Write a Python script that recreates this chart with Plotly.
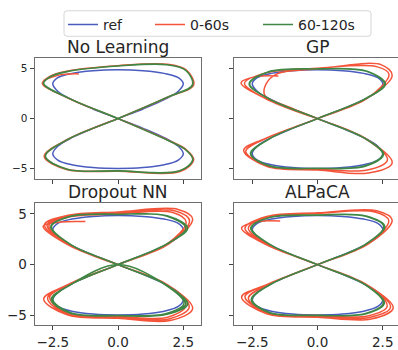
import plotly.graph_objects as go

# ---------------- data ----------------
TITLES = ["No Learning", "GP", "Dropout NN", "ALPaCA"]
SERIES = ["ref", "0-60s", "60-120s"]
X_TICKS = [-2.5, 0.0, 2.5]
X_TICK_TEXT = ["\u22122.5", "0.0", "2.5"]
Y_TICKS = [-5, 0, 5]
Y_TICK_TEXT = ["\u22125", "0", "5"]

# reference figure-eight (one lap)
REF = [(0, 0), (0.96, 0.96), (1.77, 1.88), (2.31, 2.72), (2.5, 3.46), (2.31, 4.07), (1.77, 4.5), (0.96, 4.76), (0, 4.85),
       (-0.96, 4.76), (-1.77, 4.5), (-2.31, 4.07), (-2.5, 3.46), (-2.31, 2.72), (-1.77, 1.88), (-0.96, 0.96), (0, 0),
       (0.96, -0.97), (1.77, -1.9), (2.31, -2.76), (2.5, -3.5), (2.31, -4.13), (1.77, -4.6), (0.96, -4.88), (0, -4.97),
       (-0.96, -4.88), (-1.77, -4.6), (-2.31, -4.13), (-2.5, -3.5), (-2.31, -2.76), (-1.77, -1.9), (-0.96, -0.97), (0, 0)]

# No Learning
NL_RED = [(-1.5, 4.45), (-2.3, 4.3), (-2.9, 3.52), (-1.92, 2.05), (0, 0),
          (1.92, -2.15), (2.62, -3.1), (2.9, -4.1), (2.4, -5.25), (0, -5.24), (-1.97, -5.06), (-2.83, -3.77), (-1.92, -2.05), (0, 0),
          (1.92, 2.15), (2.9, 3.35), (2.62, 4.82), (1.9, 5.4), (0, 5.27), (-1.97, 4.72), (-2.62, 4.2), (-2.9, 3.52), (-1.92, 2.05), (0, 0),
          (1.9, -2.14), (2.6, -3.1), (2.88, -4.1), (2.38, -5.22), (0, -5.22), (-1.96, -5.04), (-2.81, -3.76), (-1.9, -2.04), (0, 0)]
NL_GREEN = [(0, 0), (1.9, 2.14), (2.86, 3.35), (2.6, 4.8), (1.86, 5.37), (0, 5.24), (-1.96, 4.68), (-2.6, 4.17), (-2.86, 3.5), (-1.9, 2.04), (0, 0),
            (1.88, -2.14), (2.6, -3.1), (2.87, -4.1), (2.37, -5.21), (0, -5.21), (-1.96, -5.04), (-2.79, -3.75), (-1.9, -2.04), (0, 0),
            (1.89, 2.13), (2.85, 3.36), (2.6, 4.8), (1.85, 5.36), (0, 5.23), (-1.95, 4.67), (-2.59, 4.16), (-2.85, 3.5), (-1.89, 2.03), (0, 0),
            (1.88, -2.13), (2.59, -3.1), (2.86, -4.1), (2.36, -5.2), (0, -5.2), (-1.95, -5.03), (-2.78, -3.74), (-1.89, -2.03), (0, 0)]

# GP
GP_RED = [(-1.5, 4.25), (-2.35, 4.18), (-2.93, 3.56), (-2.0, 2.0), (0, 0),
          (1.85, -2.0), (2.86, -4.4), (1.95, -5.42), (0, -5.12), (-1.93, -4.78), (-2.83, -3.15), (-1.93, -1.9), (0, 0),
          (1.95, 2.1), (2.86, 4.3), (2.45, 5.35), (0, 4.95), (-1.55, 4.45), (-1.97, 3.45), (-2.02, 2.3), (-1.1, 1.15), (0, 0),
          (1.8, -1.95), (2.68, -4.1), (1.9, -5.12), (0, -5.02), (-1.9, -4.72), (-2.75, -3.25), (-1.9, -1.9), (0, 0),
          (1.9, 2.0), (2.74, 4.4), (2.3, 5.15), (0, 5.02), (-1.98, 4.55), (-2.8, 3.5), (-1.95, 1.95), (0, 0)]
GP_GREEN = [(0, 0), (1.8, -1.95), (2.53, -3.55), (1.85, -4.72), (0, -4.97), (-1.85, -4.72), (-2.57, -3.5), (-1.8, -1.95), (0, 0),
            (1.82, 1.95), (2.6, 3.45), (1.9, 4.72), (0, 4.95), (-1.9, 4.65), (-2.62, 3.45), (-1.85, 1.95), (0, 0),
            (1.79, -1.94), (2.5, -3.55), (1.83, -4.7), (0, -4.95), (-1.83, -4.7), (-2.55, -3.5), (-1.79, -1.94), (0, 0),
            (1.8, 1.94), (2.57, 3.45), (1.88, 4.7), (0, 4.93), (-1.88, 4.63), (-2.6, 3.45), (-1.83, 1.94), (0, 0)]

# Dropout NN
DN_RED = [(-1.25, 4.25), (-2.2, 4.2), (-2.87, 3.8), (-1.95, 2.0), (0, 0),
          (1.9, -2.0), (2.86, -4.35), (2.0, -5.53), (0, -5.3), (-1.95, -4.95), (-2.85, -3.4), (-1.95, -2.0), (0, 0),
          (1.95, 2.05), (2.86, 4.5), (2.3, 5.45), (0, 5.2), (-1.95, 4.85), (-2.82, 3.95), (-1.95, 2.0), (0, 0),
          (1.88, -2.0), (2.73, -4.2), (1.95, -5.38), (0, -5.2), (-1.95, -4.9), (-2.7, -3.3), (-1.9, -1.95), (0, 0),
          (1.9, 2.0), (2.74, 4.35), (2.2, 5.3), (0, 5.1), (-1.95, 4.75), (-2.72, 3.9), (-1.9, 1.98), (0, 0),
          (1.85, -1.98), (2.6, -4.05), (1.9, -5.2), (0, -5.1), (-1.9, -4.85), (-2.62, -3.2), (-1.85, -1.95), (0, 0),
          (1.85, 1.98), (2.61, 4.2), (2.1, 5.15), (0, 5.0), (-1.9, 4.7), (-2.65, 3.85), (-1.85, 1.95), (0, 0)]
DN_GREEN = [(0, 0), (1.82, -1.96), (2.67, -3.9), (1.88, -4.9), (0, -5.06), (-1.85, -4.78), (-2.56, -3.45), (-1.8, -1.95), (0, 0),
            (1.82, 1.96), (2.67, 3.6), (1.88, 4.82), (0, 4.98), (-1.85, 4.76), (-2.58, 3.75), (-1.8, 1.95), (0, 0),
            (1.8, -1.95), (2.6, -3.85), (1.85, -4.86), (0, -5.04), (-1.83, -4.76), (-2.53, -3.44), (-1.79, -1.94), (0, 0),
            (1.8, 1.95), (2.6, 3.58), (1.85, 4.8), (0, 4.96), (-1.83, 4.74), (-2.55, 3.74), (-1.79, 1.94), (0, 0),
            (1.78, -1.94), (2.53, -3.8), (1.82, -4.84), (0, -5.02), (-1.81, -4.74), (-2.5, -3.43), (-1.78, -1.93), (0, 0)]

# ALPaCA
AL_RED = [(-1.43, 4.3), (-2.26, 4.25), (-2.91, 3.6), (-1.97, 1.97), (0, 0),
          (1.9, -2.0), (2.9, -4.27), (2.05, -5.38), (0, -5.2), (-1.95, -4.85), (-2.91, -3.2), (-1.95, -1.98), (0, 0),
          (1.95, 2.05), (2.86, 4.4), (2.3, 5.3), (0, 5.12), (-1.95, 4.75), (-2.78, 3.6), (-1.92, 1.97), (0, 0),
          (1.88, -2.0), (2.8, -4.2), (1.98, -5.22), (0, -5.1), (-1.92, -4.8), (-2.78, -3.15), (-1.9, -1.95), (0, 0),
          (1.9, 2.0), (2.73, 4.35), (2.2, 5.2), (0, 5.05), (-1.92, 4.7), (-2.65, 3.6), (-1.88, 1.95), (0, 0),
          (1.85, -1.98), (2.67, -4.1), (1.92, -5.07), (0, -5.02), (-1.9, -4.78), (-2.65, -3.3), (-1.85, -1.95), (0, 0)]
AL_GREEN = [(0, 0), (1.82, 1.96), (2.58, 3.75), (1.86, 4.8), (0, 4.9), (-1.85, 4.66), (-2.56, 3.6), (-1.8, 1.95), (0, 0),
            (1.82, -1.96), (2.56, -3.8), (1.86, -4.85), (0, -5.02), (-1.85, -4.75), (-2.54, -3.46), (-1.8, -1.95), (0, 0),
            (1.8, 1.95), (2.54, 3.74), (1.84, 4.78), (0, 4.88), (-1.83, 4.64), (-2.53, 3.6), (-1.79, 1.94), (0, 0),
            (1.8, -1.95), (2.52, -3.78), (1.84, -4.83), (0, -5.0), (-1.83, -4.73), (-2.51, -3.45), (-1.79, -1.94), (0, 0)]

PANELS = [(NL_RED, NL_GREEN), (GP_RED, GP_GREEN), (DN_RED, DN_GREEN), (AL_RED, AL_GREEN)]

# ---------------- style ----------------
W, H = 398, 350
COLORS = {"ref": "#4a5cbf", "0-60s": "#f4553a", "60-120s": "#3e8744"}
FONT = "DejaVu Sans"
TXT = "#262626"

# panel pixel boxes: (left, right, top, bottom)
BOXES = [(34.5, 201, 59, 182.5), (234, 398, 59, 182.5), (34.5, 201, 207.5, 332), (234, 398, 207.5, 332)]

fig = go.Figure()
legend_names = ["legend", "legend2", "legend3"]

for i, (red, green) in enumerate(PANELS):
    xa = "x" if i == 0 else f"x{i+1}"
    ya = "y" if i == 0 else f"y{i+1}"
    for j, (name, pts) in enumerate([("ref", REF), ("0-60s", red), ("60-120s", green)]):
        fig.add_trace(go.Scatter(
            x=[p[0] for p in pts], y=[p[1] for p in pts], mode="lines", name=name,
            line=dict(color=COLORS[name], width=1.5, shape="spline", smoothing=1.0),
            xaxis=xa, yaxis=ya, showlegend=(i == 0), legend=legend_names[j],
            hoverinfo="skip"))

layout = dict(width=W, height=H, margin=dict(l=0, r=0, t=0, b=0, pad=0),
              paper_bgcolor="white", plot_bgcolor="white",
              font=dict(family=FONT, color=TXT))

for i, (l, r, t, b) in enumerate(BOXES):
    suf = "" if i == 0 else str(i + 1)
    bottom_row = i >= 2
    left_col = i % 2 == 0
    tick_font = 13.5 if bottom_row else 10.5
    layout["xaxis" + suf] = dict(
        domain=[l / W, r / W], range=[-3.2, -3.2 + (r - l) / 26.1], anchor="y" + suf,
        showline=True, linecolor="#6e6e6e", linewidth=1, mirror=True,
        ticks="outside", ticklen=4, tickwidth=1, tickcolor="#444",
        tickmode="array", tickvals=X_TICKS, ticktext=X_TICK_TEXT,
        showticklabels=bottom_row, tickfont=dict(size=13.5, color=TXT, family=FONT),
        showgrid=False, zeroline=False, fixedrange=True)
    layout["yaxis" + suf] = dict(
        domain=[(H - b) / H, (H - t) / H], range=[-6.0, 6.05], anchor="x" + suf,
        showline=True, linecolor="#6e6e6e", linewidth=1, mirror=left_col,
        ticks="outside", ticklen=4, tickwidth=1, tickcolor="#444",
        tickmode="array", tickvals=Y_TICKS, ticktext=Y_TICK_TEXT,
        showticklabels=left_col, tickfont=dict(size=tick_font, color=TXT, family=FONT),
        showgrid=False, zeroline=False, fixedrange=True)

annotations = []
for i, (l, r, t, b) in enumerate(BOXES):
    cx = (34.5 + 201) / 2 if i % 2 == 0 else (234 + 400.5) / 2
    annotations.append(dict(text=TITLES[i], x=cx / W, y=(H - t) / H, xref="paper", yref="paper",
                            xanchor="center", yanchor="bottom", yshift=-1, showarrow=False,
                            font=dict(size=17, color=TXT, family=FONT)))
layout["annotations"] = annotations

# legend: three single-entry legends inside one framed box
leg_x = [63, 150, 258]
for k, nm in enumerate(legend_names):
    layout[nm] = dict(x=leg_x[k] / W, y=1 - 9 / H, xanchor="left", yanchor="top",
                      orientation="h", bgcolor="rgba(0,0,0,0)", borderwidth=0,
                      font=dict(size=14, color=TXT, family=FONT), itemclick=False, itemdoubleclick=False)

x0, x1, y0, y1 = 64 / W, 371 / W, 1 - 37 / H, 1 - 11 / H
rx, ry = 3 / W, 3 / H
path = (f"M{x0+rx},{y0} L{x1-rx},{y0} Q{x1},{y0} {x1},{y0+ry} L{x1},{y1-ry} Q{x1},{y1} {x1-rx},{y1} "
        f"L{x0+rx},{y1} Q{x0},{y1} {x0},{y1-ry} L{x0},{y0+ry} Q{x0},{y0} {x0+rx},{y0} Z")
layout["shapes"] = [dict(type="path", path=path, xref="paper", yref="paper",
                         line=dict(color="#d6d6d6", width=1), fillcolor="rgba(255,255,255,0.8)", layer="below")]

fig.update_layout(**layout)
fig.write_html("out.html", config={"displayModeBar": False},
               post_script="document.body.style.margin='0';document.body.style.overflow='hidden';")
